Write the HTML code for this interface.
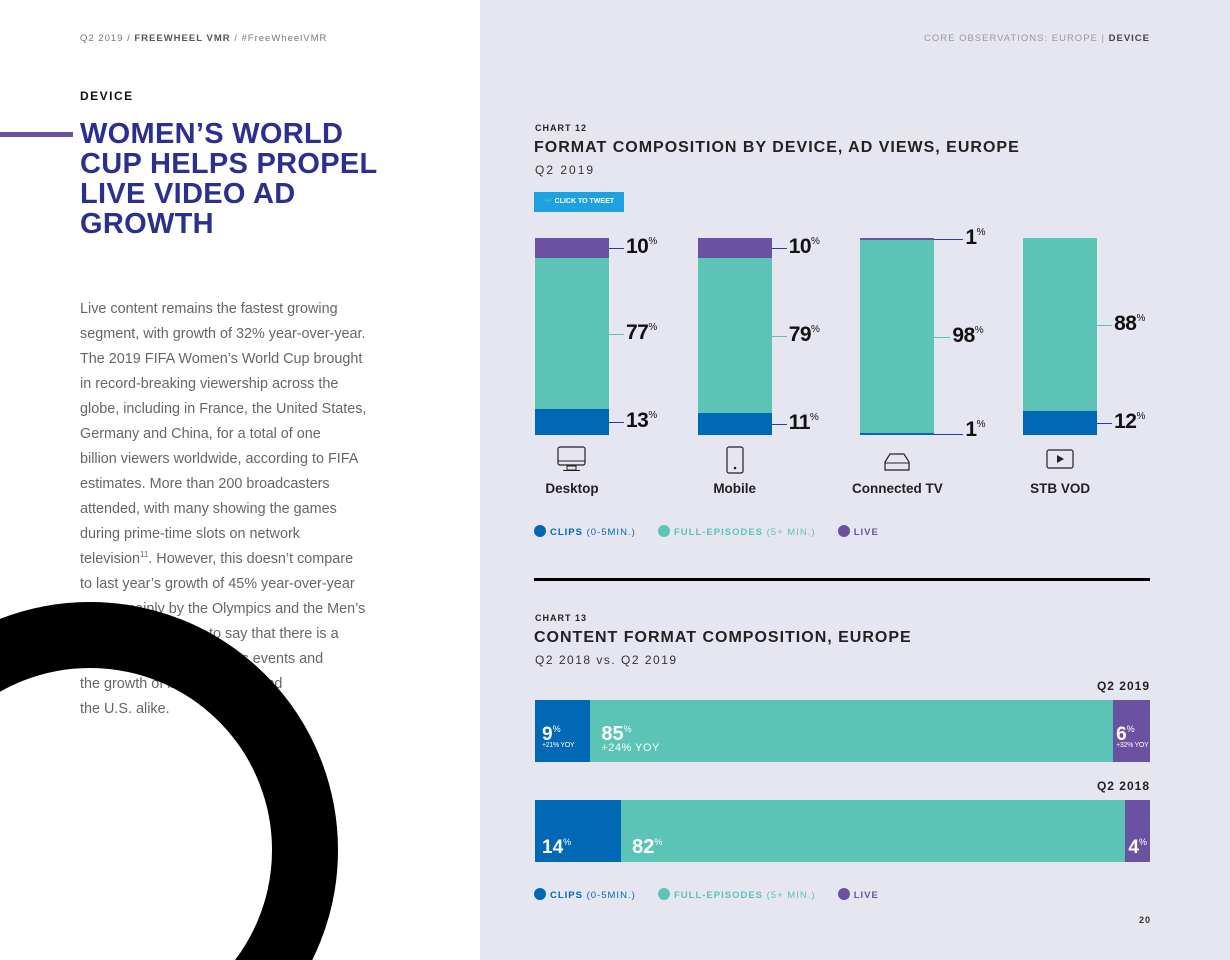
<!DOCTYPE html>
<html><head><meta charset="utf-8"><style>
html{overflow:hidden}
body{margin:0;width:1230px;height:960px;position:relative;overflow:hidden;font-family:"Liberation Sans",sans-serif;background:#fff}
.a{position:absolute}
#right{left:480px;top:0;width:750px;height:960px;background:#e6e6f0}
.body{left:80px;top:297px;font-size:14.4px;line-height:25px;color:#666;white-space:nowrap}
.h1{left:80px;top:119px;font-size:29px;line-height:30px;font-weight:bold;color:#2b2f8f;letter-spacing:0.3px}
.lbl{font-weight:bold;font-size:21px;color:#111;letter-spacing:-0.5px}
.lbl sup{font-size:10px;font-weight:normal;vertical-align:9px}
.leg{font-size:9.5px;font-weight:bold;letter-spacing:1px}
.leg i{display:inline-block;width:12px;height:12px;border-radius:50%;vertical-align:-2px;margin-right:4px}
.dev{font-size:13.5px;font-weight:bold;color:#222;text-align:center;width:140px}
</style></head><body>
<div class="a" style="left:80px;top:33px;font-size:9.5px;color:#777;letter-spacing:1px">Q2 2019 / <b style="color:#555">FREEWHEEL VMR</b> / #FreeWheelVMR</div>
<div class="a" style="left:80px;top:89px;font-size:12px;font-weight:bold;letter-spacing:1.5px;color:#111">DEVICE</div>
<div class="a" style="left:0;top:132px;width:73px;height:5px;background:#6b52a1"></div>
<div class="a h1">WOMEN’S WORLD<br>CUP HELPS PROPEL<br>LIVE VIDEO AD<br>GROWTH</div>
<div class="a body">Live content remains the fastest growing<br>segment, with growth of 32% year-over-year.<br>The 2019 FIFA Women’s World Cup brought<br>in record-breaking viewership across the<br>globe, including in France, the United States,<br>Germany and China, for a total of one<br>billion viewers worldwide, according to FIFA<br>estimates. More than 200 broadcasters<br>attended, with many showing the games<br>during prime-time slots on network<br>television<sup style="font-size:8px;line-height:0">11</sup>. However, this doesn’t compare<br>to last year’s growth of 45% year-over-year<br>driven mainly by the Olympics and the Men’s<br>World Cup. It’s safe to say that there is a<br>correlation between sports events and<br>the growth of live in Europe and<br>the U.S. alike.</div>
<svg class="a" style="left:0;top:0" width="480" height="960"><circle cx="90" cy="850" r="215" fill="none" stroke="#000" stroke-width="66"/></svg>
<div class="a" id="right"></div>
<div class="a" style="right:80px;top:33px;font-size:9.5px;color:#999;letter-spacing:1px">CORE OBSERVATIONS: EUROPE | <b style="color:#444">DEVICE</b></div>
<div class="a" style="left:535px;top:123px;font-size:9px;font-weight:bold;letter-spacing:1px;color:#222">CHART 12</div>
<div class="a" style="left:534px;top:139px;font-size:16px;font-weight:bold;letter-spacing:1px;color:#222">FORMAT COMPOSITION BY DEVICE, AD VIEWS, EUROPE</div>
<div class="a" style="left:535px;top:163px;font-size:12px;letter-spacing:2px;color:#333">Q2 2019</div>
<div class="a" style="left:534px;top:192px;width:90px;height:20px;background:#1da1e0;color:#fff;font-size:7px;font-weight:bold;line-height:20px;text-align:center">🐦 CLICK TO TWEET</div>
<div class="a" id="c12" style="left:0;top:0;width:1230px;height:960px"></div>
<div class="a" style="left:534px;top:578px;width:616px;height:3px;background:#000"></div>
<div class="a" style="left:535px;top:613px;font-size:9px;font-weight:bold;letter-spacing:1px;color:#222">CHART 13</div>
<div class="a" style="left:534px;top:629px;font-size:16px;font-weight:bold;letter-spacing:1px;color:#222">CONTENT FORMAT COMPOSITION, EUROPE</div>
<div class="a" style="left:535px;top:653px;font-size:12px;letter-spacing:1.5px;color:#333">Q2 2018 vs. Q2 2019</div>
<div class="a" id="c13" style="left:0;top:0;width:1230px;height:960px"></div>
<div class="a" style="left:1139px;top:915px;font-size:9px;font-weight:bold;letter-spacing:1px;color:#333">20</div>
<script>
const devices=["Desktop","Mobile","Connected TV","STB VOD"];
const clips=[13,11,1,12];
const full=[77,79,98,88];
const live=[10,10,1,0];
const colors={clips:"#0068b5",full:"#5bc4b7",live:"#6b52a1"};
const years=["Q2 2019","Q2 2018"];
const hClips=[9,14];
const hFull=[85,82];
const hLive=[6,4];
const hYoy=["+21% YOY","+24% YOY","+32% YOY"];

const c12=document.getElementById('c12');
const X0=535,STEP=162.7,BW=74,TOP=238,H=197;
function yOf(p){return H*p/100;}
function mk(parent,css,html){const d=document.createElement('div');d.className='a';d.style.cssText=css;if(html)d.innerHTML=html;parent.appendChild(d);return d;}
const icons=['<svg width="30" height="30"><rect x="1" y="1" width="27" height="18" rx="2" fill="none" stroke="#222" stroke-width="1.2"/><line x1="1" y1="15" x2="28" y2="15" stroke="#222"/><rect x="10" y="20" width="9" height="4" fill="none" stroke="#222"/><line x1="6" y1="24.5" x2="23" y2="24.5" stroke="#222"/></svg>',
'<svg width="30" height="30"><rect x="7" y="1" width="16" height="26" rx="2" fill="none" stroke="#222" stroke-width="1.2"/><circle cx="15" cy="22" r="1.3" fill="#222"/></svg>',
'<svg width="30" height="30"><path d="M8 8 L22 8 L27 16 L27 24 L3 24 L3 16 Z" fill="none" stroke="#222" stroke-width="1.2"/><line x1="3" y1="17" x2="27" y2="17" stroke="#222"/></svg>',
'<svg width="30" height="30"><rect x="2" y="4" width="26" height="18" rx="2" fill="none" stroke="#222" stroke-width="1.2"/><path d="M12 9 L19 13 L12 17Z" fill="#222"/></svg>'];
devices.forEach((dv,i)=>{
  const x=X0+i*STEP;
  const segs=[["clips",clips[i]],["full",full[i]],["live",live[i]]];
  const small=segs.some(s=>s[1]>0&&s[1]<3);
  let y=TOP+H;
  segs.forEach(([k,v],j)=>{
    const h=yOf(v);y-=h;
    if(v<=0)return;
    const s=mk(c12,`left:${x}px;top:${y}px;width:${BW}px;height:${h}px;background:${colors[k]}`);
    
    
    let ly=y+h/2, lineLen=small?16:15;
    if(v<3){ly=(k==='live')?TOP+1:TOP+H-1;lineLen=29;}
    const ln=mk(c12,`left:${x+BW}px;top:${ly}px;width:${lineLen}px;height:1px;background:${k==='full'?'#5bc4b7':'#2b3e8f'}`);
    
    
    const ty=v<3?(k==='live'?TOP-12:TOP+H-17):ly-13;
    const t=mk(c12,`left:${x+BW+lineLen+2}px;top:${ty}px`,`${v}<sup>%</sup>`);
    t.className='a lbl';
    
    
  });
  const ic=mk(c12,`left:${x+22}px;top:446px`,icons[i]);
  
  
  const l=mk(c12,`left:${x+BW/2-70}px;top:481px`,dv);
  l.className='a dev';
  
  
});
function legend(parent,top){
  const lg=mk(parent,`left:534px;top:${top}px`,`<span class="leg" style="color:${colors.clips}"><i style="background:${colors.clips}"></i>CLIPS <span style="font-weight:normal">(0-5MIN.)</span></span>&nbsp;&nbsp;&nbsp;&nbsp;&nbsp;<span class="leg" style="color:${colors.full}"><i style="background:${colors.full}"></i>FULL-EPISODES <span style="font-weight:normal">(5+ MIN.)</span></span>&nbsp;&nbsp;&nbsp;&nbsp;&nbsp;<span class="leg" style="color:${colors.live}"><i style="background:${colors.live}"></i>LIVE</span>`);
  
  
}
legend(c12,522);

const c13=document.getElementById('c13');
const HX=535,HW=615,HH=62,rowTop=[700,800];
years.forEach((yr,r)=>{
  const yl=mk(c13,`left:1000px;width:150px;text-align:right;top:${rowTop[r]-21}px;font-size:12px;font-weight:bold;letter-spacing:1px;color:#222`,yr);
  
  
  let x=HX;
  [["clips",hClips[r]],["full",hFull[r]],["live",hLive[r]]].forEach(([k,v],j)=>{
    const w=HW*v/100;
    const s=mk(c13,`left:${x}px;top:${rowTop[r]}px;width:${w}px;height:${HH}px;background:${colors[k]}`);
    
    
    const big=j===1?20:19;
    const pad=j===1?11:(k==='live'?3:7);
    const ty=r===0?rowTop[r]+19:rowTop[r]+32;
    const t=mk(c13,`left:${x+pad}px;top:${ty}px;color:#fff;font-weight:bold;font-size:${big}px;line-height:20px`,`${v}<sup style="font-size:9px;font-weight:normal;vertical-align:8px">%</sup>`);
    
    
    if(r===0){
      const yy=mk(c13,`left:${x+pad}px;top:${rowTop[r]+42}px;color:#fff;font-size:${j===1?11:7}px;letter-spacing:${j===1?0.5:-0.3}px`,hYoy[j]);
      
      
    }
    x+=w;
  });
});
legend(c13,885);
</script>
</body></html>
